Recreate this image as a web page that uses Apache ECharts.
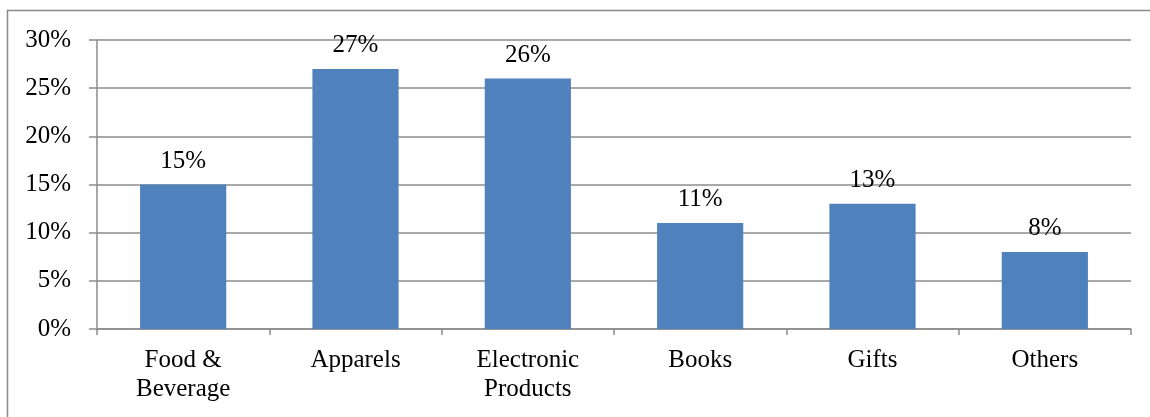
<!DOCTYPE html>
<html><head><meta charset="utf-8">
<script src="https://cdn.jsdelivr.net/npm/echarts@6/dist/echarts.min.js"></script>
<style>html,body{margin:0;padding:0;background:#fff}#c{width:1150px;height:417px}</style>
</head><body><div id="c"></div>
<script>
const categories = ['Food &\nBeverage', 'Apparels', 'Electronic\nProducts', 'Books', 'Gifts', 'Others'];
const shares = [15, 27, 26, 11, 13, 8];
const yTicks = { min: 0, max: 30, interval: 5 };

const font = '"Liberation Serif", "Times New Roman", serif';
const chart = echarts.init(document.getElementById('c'), null, { renderer: 'canvas' });
chart.setOption({
  animation: false,
  backgroundColor: '#fff',
  graphic: [{
    type: 'rect', shape: { x: 7.5, y: 10.5, width: 1300, height: 600 },
    style: { fill: 'none', stroke: '#888', lineWidth: 1.5 }, silent: true
  }],
  grid: { left: 97, right: 19, top: 40, bottom: 88, containLabel: false },
  xAxis: {
    type: 'category', data: categories, boundaryGap: true,
    axisLine: { lineStyle: { color: '#8c8c8c', width: 1.5 } },
    axisTick: { show: true, length: 6, lineStyle: { color: '#8c8c8c', width: 1.5 } },
    axisLabel: { color: '#000', fontFamily: font, fontSize: 25, lineHeight: 29, margin: 17, interval: 0 }
  },
  yAxis: {
    type: 'value', min: yTicks.min, max: yTicks.max, interval: yTicks.interval,
    axisLine: { show: true, lineStyle: { color: '#8c8c8c', width: 1.5 } },
    axisTick: { show: true, length: 8, lineStyle: { color: '#8c8c8c', width: 1.5 } },
    axisLabel: { color: '#000', fontFamily: font, fontSize: 25, margin: 26, formatter: '{value}%' },
    splitLine: { lineStyle: { color: '#8c8c8c', width: 1.5 } }
  },
  series: [{
    type: 'bar', data: shares, barWidth: '50%',
    itemStyle: { color: '#4f81bd' },
    label: { show: true, position: 'top', distance: 11, color: '#000', fontFamily: font, fontSize: 25, formatter: '{c}%' }
  }]
});
</script></body></html>
